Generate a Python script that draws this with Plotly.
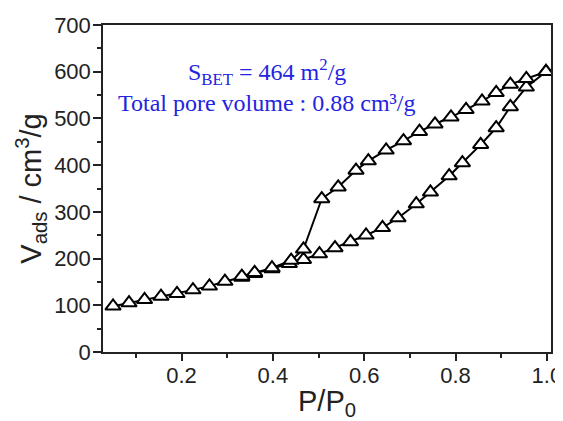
import plotly.graph_objects as go

# Adsorption branch (lower)
ads_p = [0.050, 0.085, 0.119, 0.155, 0.190, 0.225, 0.261, 0.295, 0.332, 0.360,
         0.398, 0.436, 0.467, 0.502, 0.536, 0.570, 0.604, 0.640, 0.674, 0.714,
         0.745, 0.786, 0.815, 0.855, 0.889, 0.920, 0.955, 0.998]
ads_v = [98, 105, 112, 119, 125, 133, 141, 151, 160, 168,
         178, 189, 198, 210, 223, 236, 250, 266, 287, 317,
         342, 377, 405, 444, 480, 525, 567, 600]

# Desorption branch (upper)
des_p = [0.998, 0.955, 0.920, 0.889, 0.858, 0.823, 0.790, 0.755, 0.721, 0.686,
         0.648, 0.609, 0.582, 0.543, 0.507, 0.467, 0.440, 0.398, 0.360, 0.332]
des_v = [600, 585, 573, 555, 537, 519, 503, 488, 472, 452,
         432, 409, 389, 353, 328, 220, 196, 180, 170, 162]

x_tickvals = [0.2, 0.4, 0.6, 0.8, 1.0]
x_ticktext = ["0.2", "0.4", "0.6", "0.8", "1.0"]
y_tickvals = [0, 100, 200, 300, 400, 500, 600, 700]

fig = go.Figure()
marker = dict(symbol="triangle-up", size=13.5, color="white",
              line=dict(color="black", width=2))
fig.add_trace(go.Scatter(x=ads_p, y=ads_v, mode="lines+markers",
                         line=dict(color="black", width=2), marker=marker,
                         showlegend=False))
fig.add_trace(go.Scatter(x=des_p, y=des_v, mode="lines+markers",
                         line=dict(color="black", width=2), marker=marker,
                         showlegend=False))

axis_font = dict(family="Liberation Sans, Arial, sans-serif", size=22, color="#222222")
# page body has an 8px default margin, so the figure is sized to fit the window
fig.update_layout(
    width=555, height=413,
    margin=dict(l=95, r=12, t=17, b=69),
    paper_bgcolor="white", plot_bgcolor="white",
    font=dict(family="Liberation Sans, Arial, sans-serif", color="#222222"),
    xaxis=dict(range=[0.028, 1.009], tickvals=x_tickvals, ticktext=x_ticktext,
               automargin=False, ticklabelstandoff=-4,
               ticks="outside", ticklen=7, tickwidth=1.5, tickcolor="#222222",
               showline=True, linecolor="#222222", linewidth=1.5, mirror=True,
               showgrid=False, zeroline=False, tickfont=axis_font,
               minor=dict(ticks="outside", ticklen=4, tickwidth=1.5, tickcolor="#222222",
                          tick0=0, dtick=0.1, showgrid=False),
               title=dict(text="P/P<sub>0</sub>", font=dict(size=29, color="#222222"),
                          standoff=4)),
    yaxis=dict(range=[0, 700], tickvals=y_tickvals,
               automargin=False, ticklabelstandoff=-2,
               ticks="outside", ticklen=8, tickwidth=1.5, tickcolor="#222222",
               showline=True, linecolor="#222222", linewidth=1.5, mirror=True,
               showgrid=False, zeroline=False, tickfont=axis_font,
               minor=dict(ticks="outside", ticklen=4, tickwidth=1.5, tickcolor="#222222",
                          tick0=0, dtick=50, showgrid=False),
               title=dict(text="V<sub>ads</sub> / cm<sup>3</sup>/g",
                          font=dict(size=29, color="#222222"), standoff=4)),
)

serif = dict(family="Liberation Serif, Times New Roman, serif", size=24, color="#2323e0")
fig.add_annotation(xref="paper", yref="paper", x=0.366, y=0.856,
                   text="S<sub>BET</sub> = 464 m<sup>2</sup>/g", showarrow=False,
                   font=serif, xanchor="center", yanchor="middle")
fig.add_annotation(xref="paper", yref="paper", x=0.366, y=0.761,
                   text="Total pore volume : 0.88 cm³/g", showarrow=False,
                   font=serif, xanchor="center", yanchor="middle")

fig.write_html("out.html")
